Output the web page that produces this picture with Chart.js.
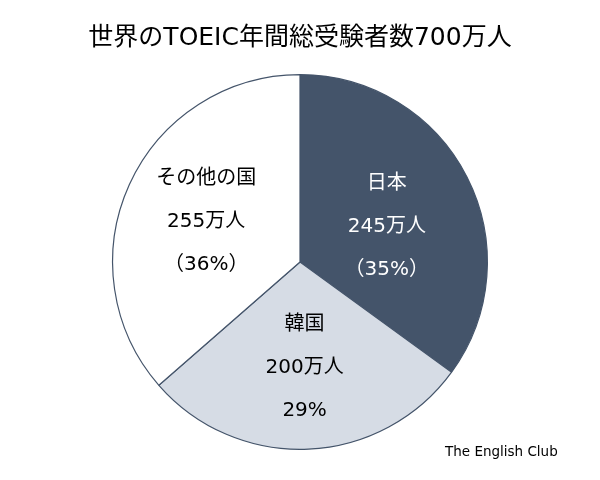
<!DOCTYPE html>
<html>
<head>
<meta charset="utf-8">
<script src="https://cdn.jsdelivr.net/npm/chart.js@4"></script>
<style>
  html, body { margin: 0; padding: 0; background: #fff; }
  #wrap { width: 600px; height: 480px; position: relative; }
</style>
</head>
<body>
<div id="wrap"><canvas id="myChart" width="600" height="480"></canvas></div>
<script>
// data
const categories = ['日本', '韓国', 'その他の国'];
const values = [245, 200, 255];          // 万人
const amountLabels = ['245万人', '200万人', '255万人'];
const percentLabels = ['（35%）', '29%', '（36%）'];
const sliceColors = ['#44546A', '#D6DCE5', '#FFFFFF'];
const textColors = ['#FFFFFF', '#000000', '#000000'];
// small nudges of the in-slice text blocks, px
const labelShiftX = [-5, 0, 0];
const labelShiftY = [12, 3, 2];

const titleText = '世界のTOEIC年間総受験者数700万人';
const sourceText = 'The English Club';

const mixFont = '"DejaVu Sans", "Noto Sans CJK JP", sans-serif';

// draws the title, the source note and the text inside each slice
const labelPlugin = {
    id: 'labelPlugin',
    afterDraw: function(chart) {
        const ctx = chart.ctx;
        ctx.save();
        ctx.fillStyle = '#000';
        ctx.textAlign = 'center';
        ctx.textBaseline = 'middle';
        ctx.font = '25px ' + mixFont;
        ctx.fillText(titleText, 300, 38);

        ctx.font = '13.5px "DejaVu Sans", sans-serif';
        ctx.textAlign = 'left';
        ctx.fillText(sourceText, 445, 452);

        const meta = chart.getDatasetMeta(0);
        ctx.textAlign = 'center';
        ctx.font = '20px ' + mixFont;
        meta.data.forEach(function(arc, i) {
            const p = arc.getProps(['x', 'y', 'startAngle', 'endAngle', 'outerRadius'], true);
            const mid = (p.startAngle + p.endAngle) / 2;
            const r = p.outerRadius * 0.55;
            const cx = p.x + Math.cos(mid) * r + labelShiftX[i];
            const cy = p.y + Math.sin(mid) * r + labelShiftY[i];
            ctx.fillStyle = textColors[i];
            const lines = [categories[i], amountLabels[i], percentLabels[i]];
            lines.forEach(function(t, j) {
                ctx.fillText(t, cx, cy + (j - 1) * 43);
            });
        });
        ctx.restore();
    }
};

const myChart = new Chart(document.getElementById('myChart'), {
    type: 'pie',
    data: {
        labels: categories,
        datasets: [{
            data: values,
            backgroundColor: sliceColors,
            borderColor: '#44546A',
            borderWidth: 1.2
        }]
    },
    options: {
        responsive: false,
        animation: false,
        layout: { padding: { top: 74, bottom: 30, left: 112, right: 112 } },
        plugins: {
            legend: { display: false },
            tooltip: { enabled: false },
            title: { display: false }
        }
    },
    plugins: [labelPlugin]
});
</script>
</body>
</html>
